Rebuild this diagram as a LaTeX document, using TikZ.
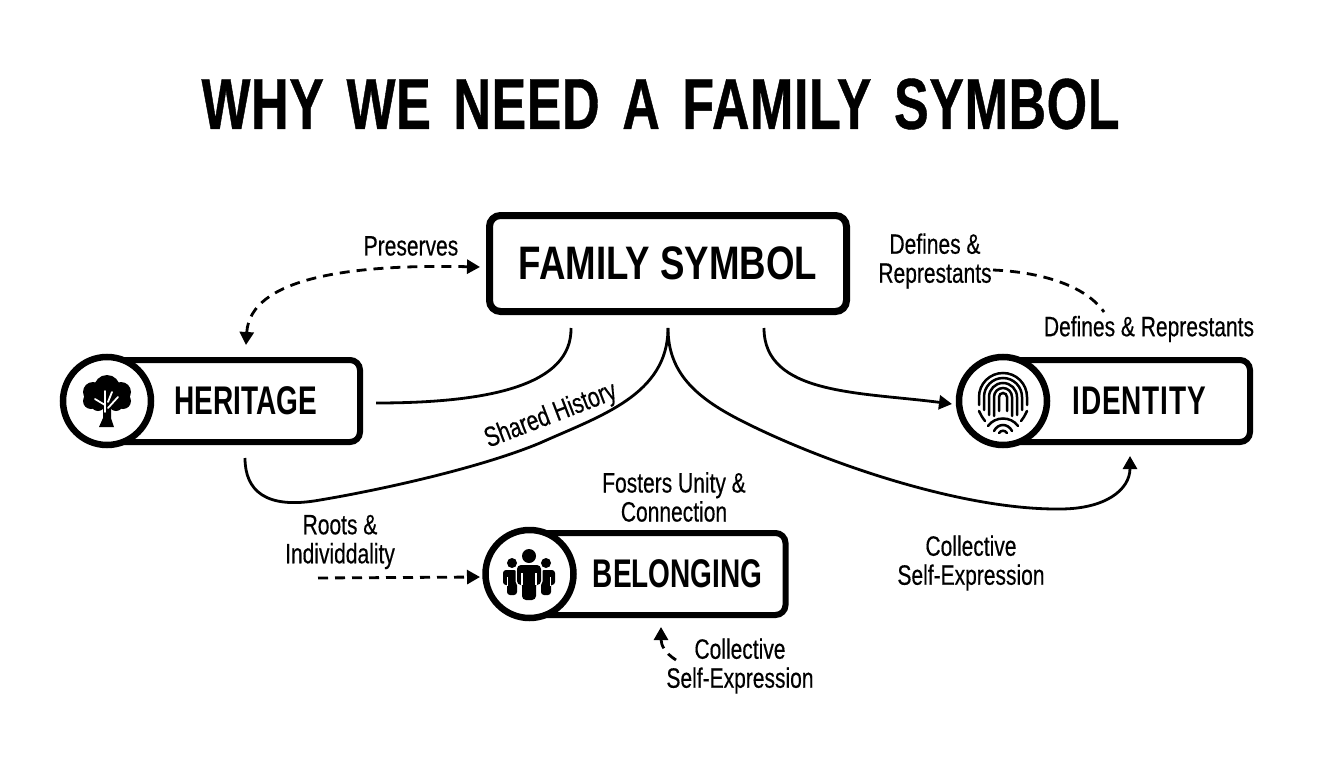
\documentclass[tikz,border=0pt]{standalone}
\usepackage{fontspec}
\setmainfont[FakeStretch=0.78]{Liberation Sans}
\newfontfamily\condfont[FakeStretch=0.7]{Liberation Sans}
\newfontfamily\notefont[FakeStretch=0.75,FakeBold=0.4]{Liberation Sans}
\newfontfamily\titlefont[FakeStretch=0.72,FakeBold=0.6,LetterSpace=1,WordSpace=1.5]{Liberation Sans}
\usetikzlibrary{positioning}
\usetikzlibrary{arrows.meta}

\begin{document}
\begin{tikzpicture}[x=1pt,y=-1pt]
\tikzstyle{mainbox} = [rectangle, draw, line width=7pt, rounded corners=11pt, minimum width=357pt, minimum height=96pt, font=\fontsize{47}{50}\selectfont\bfseries]
\tikzstyle{pill} = [rectangle, draw, line width=6pt, outer sep=0pt, rounded corners=10pt, minimum height=82pt, anchor=west, align=right, font=\condfont\fontsize{40}{44}\selectfont\bfseries]
\tikzstyle{badge} = [circle, draw, fill=white, line width=6.5pt, minimum size=88pt, inner sep=0pt]
\tikzstyle{note} = [align=center, font=\notefont\fontsize{28}{29}\selectfont]
\tikzstyle{arrow} = [line width=2.8pt, -{Triangle[length=13pt,width=14pt]}]
\tikzstyle{curve} = [line width=2.8pt]
\tikzstyle{dashline} = [line width=2.8pt, dash pattern=on 10pt off 7pt]

\useasboundingbox (0,0) rectangle (1344,768);

\node (title) at (660.5,104) {\titlefont\fontsize{72}{76}\selectfont\bfseries WHY WE NEED A FAMILY SYMBOL};

\node (symbol) [mainbox] at (668,263.5) {FAMILY SYMBOL};
\node (heritage) [pill, text width=167pt, inner xsep=43pt] at (107,401) {HERITAGE};
\node (identity) [pill, text width=159pt, inner xsep=44pt] at (1003,401) {\addfontfeatures{LetterSpace=2}IDENTITY};
\node (belonging) [pill, text width=210pt, inner xsep=23pt] at (529.5,574) {BELONGING};
\node (treebadge) [badge] at (107,401) {};
\node (printbadge) [badge] at (1003,401) {};
\node (peoplebadge) [badge] at (529.5,574) {};

% tree
\fill (107,388) circle (13) (93,392) circle (10) (121,392) circle (10) (91,401) circle (8) (123,401) circle (8) (98,404) circle (7) (116,404) circle (7) (107,400) circle (10);
\fill (103,405) -- (111,405) -- (111,418) -- (114,427) -- (99,427) -- (103,418) -- cycle;
\draw [white, line width=1.8pt, line cap=round] (105,412) -- (105,391) (105,405) -- (95,399) (108,408) -- (118,397) (108,402) -- (112,392);

% fingerprint
\foreach \r/\len in {24/8,19/13,14/18,9/19,4/14}
  \draw [line width=2.5pt, line cap=round] (1003-\r,397+\len) -- (1003-\r,397) arc (180:360:\r) -- (1003+\r,397+\len);
\foreach \s in {-1,1}
  \draw [line width=2.5pt, line cap=round] (1003+\s*24,411) .. controls (1003+\s*21,417) .. (1003+\s*18,421);
\draw [line width=2.5pt, line cap=round] (988,426) .. controls (995,416) and (1011,416) .. (1018,426);
\draw [line width=2.5pt, line cap=round] (994,431) .. controls (998,423) and (1008,423) .. (1012,431);
\draw [line width=2.5pt, line cap=round] (999,433) .. controls (1001,430) and (1005,430) .. (1007,433);

% people
\fill (512,563) circle (5) (546,563) circle (5) (529,556) circle (7);
\fill [rounded corners=3pt] (503,570) rectangle (517,585) (507,575) rectangle (517,595) (541,570) rectangle (555,585) (541,575) rectangle (551,595);
\draw [white, line width=1.2pt] (507.5,577) -- (507.5,586) (550.5,577) -- (550.5,586);
\filldraw [white, line width=3pt, rounded corners=4pt] (517,565) rectangle (541,585) (522,575) rectangle (536,600);
\fill [rounded corners=4pt] (517,565) rectangle (541,585) (522,575) rectangle (536,600);
\draw [white, line width=1.2pt] (522,573) -- (522,585) (536,573) -- (536,585);

% labels
\node (preserves) [note] at (411,246) {Preserves};
\node (defines) [note] at (935,261) {Defines \&\\Represtants};
\node (definesb) [note] at (1149,329) {Defines \& Represtants};
\node (history) [note, rotate=21] at (551,416) {Shared History};
\node (roots) [note] at (340,542) {Roots \&\\Individdality};
\node (fosters) [note] at (674,497) {Fosters Unity \&\\Connection};
\node (collective) [note] at (971,563) {Collective\\Self-Expression};
\node (collectiveb) [note] at (740,666) {Collective\\Self-Expression};

% free ends of the lines
\coordinate (hertop) at (246,345);
\coordinate (symleft) at (480,267);
\coordinate (symout) at (571,328);
\coordinate (herright) at (376,403);
\coordinate (symmid) at (668,328);
\coordinate (herbottom) at (245,458);
\coordinate (idbottom) at (1130,456);
\coordinate (symright) at (764,328);
\coordinate (idleft) at (952,404);
\coordinate (defstart) at (993,270);
\coordinate (defend) at (1104,312);
\coordinate (rootstart) at (318,578);
\coordinate (belleft) at (480,577);
\coordinate (colstart) at (676,660);
\coordinate (belbottom) at (661,627);

\draw [dashline, {Triangle[length=13pt,width=14pt]}-{Triangle[length=13pt,width=14pt]}] (hertop) .. controls (250,278) and (350,264) .. (symleft);
\draw [curve] (symout) .. controls (572,385) and (490,403) .. (herright);
\draw [curve] (symmid) .. controls (668,395) and (600,416) .. (540,443) .. controls (480,468) and (380,490) .. (320,500) .. controls (265,510) and (245,490) .. (herbottom);
\draw [arrow] (symmid) .. controls (668,372) and (695,397) .. (740,420) .. controls (820,461) and (960,510) .. (1060,509) .. controls (1105,509) and (1130,490) .. (idbottom);
\draw [arrow] (symright) .. controls (764,395) and (860,392) .. (idleft);
\draw [dashline] (defstart) .. controls (1040,272) and (1085,285) .. (defend);
\draw [dashline, -{Triangle[length=13pt,width=14pt]}] (rootstart) -- (belleft);
\draw [dashline, -{Triangle[length=13pt,width=14pt]}] (colstart) .. controls (665,653) and (661,645) .. (belbottom);
\end{tikzpicture}
\end{document}
